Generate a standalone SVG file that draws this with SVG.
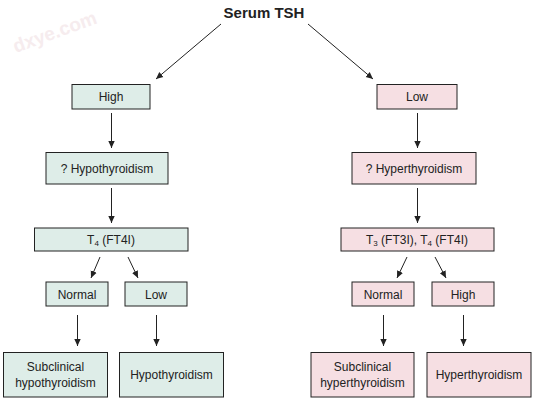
<svg xmlns="http://www.w3.org/2000/svg" width="534" height="403" viewBox="0 0 534 403">
<defs>
<marker id="ah" markerWidth="8" markerHeight="8" refX="7" refY="4" orient="auto" markerUnits="userSpaceOnUse">
<path d="M0,0.8 L7,4 L0,7.2 Z" fill="#222"/>
</marker>
<style>
.g{fill:#deede8;stroke:#222;stroke-width:1}
.p{fill:#f6dfe3;stroke:#222;stroke-width:1}
.t{font-family:"Liberation Sans",Arial,sans-serif;font-size:12px;fill:#222;text-anchor:middle}
.c line{stroke:#222;stroke-width:1;marker-end:url(#ah)}
</style>
</defs>
<rect width="534" height="403" fill="#fff"/>
<text x="57" y="38" transform="rotate(-20 57 38)" font-family="Liberation Sans,Arial,sans-serif" font-size="19" font-weight="bold" fill="#f6ecee" text-anchor="middle">dxye.com</text>
<g id="root"><text x="264" y="18" font-family="Liberation Sans,Arial,sans-serif" font-size="15" font-weight="bold" fill="#222" text-anchor="middle">Serum TSH</text></g>
<g id="high"><rect class="g" x="72" y="84.5" width="78" height="24.5"/><text class="t" x="111" y="101">High</text></g>
<g id="low"><rect class="p" x="377" y="84.5" width="80" height="24.5"/><text class="t" x="417" y="101">Low</text></g>
<g id="qhypo"><rect class="g" x="46" y="152.5" width="122" height="31.5"/><text class="t" x="107" y="172.5">? Hypothyroidism</text></g>
<g id="qhyper"><rect class="p" x="352" y="152.5" width="124" height="31.5"/><text class="t" x="414" y="172.5">? Hyperthyroidism</text></g>
<g id="t4"><rect class="g" x="34.5" y="228" width="153.5" height="23"/><text class="t" x="111" y="244">T<tspan font-size="8" dy="2">4</tspan><tspan dy="-2"> (FT4I)</tspan></text></g>
<g id="t3t4"><rect class="p" x="341" y="228" width="153" height="23"/><text class="t" x="417" y="244">T<tspan font-size="8" dy="2">3</tspan><tspan dy="-2"> (FT3I), T</tspan><tspan font-size="8" dy="2">4</tspan><tspan dy="-2"> (FT4I)</tspan></text></g>
<g id="normalL"><rect class="g" x="46" y="282" width="62" height="24"/><text class="t" x="77" y="298.5">Normal</text></g>
<g id="lowL"><rect class="g" x="125" y="282" width="62" height="24"/><text class="t" x="156" y="298.5">Low</text></g>
<g id="normalR"><rect class="p" x="352" y="282" width="62" height="24"/><text class="t" x="383" y="298.5">Normal</text></g>
<g id="highR"><rect class="p" x="432" y="282" width="62" height="24"/><text class="t" x="463" y="298.5">High</text></g>
<g id="subhypo"><rect class="g" x="3.5" y="352.5" width="104" height="44.5"/><text class="t" x="55.5" y="371">Subclinical</text><text class="t" x="55.5" y="387">hypothyroidism</text></g>
<g id="hypo"><rect class="g" x="119.5" y="352.5" width="104" height="44.5"/><text class="t" x="171.5" y="379">Hypothyroidism</text></g>
<g id="subhyper"><rect class="p" x="311" y="352.5" width="103" height="44.5"/><text class="t" x="362.5" y="371">Subclinical</text><text class="t" x="362.5" y="387">hyperthyroidism</text></g>
<g id="hyper"><rect class="p" x="427" y="352.5" width="104" height="44.5"/><text class="t" x="479" y="379">Hyperthyroidism</text></g>
<g id="connectors" class="c">
<line x1="221" y1="24" x2="156" y2="79"/>
<line x1="308" y1="24" x2="373" y2="79"/>
<line x1="111.5" y1="113" x2="111.5" y2="148"/>
<line x1="417.5" y1="113" x2="417.5" y2="148"/>
<line x1="111.5" y1="188" x2="111.5" y2="223"/>
<line x1="417.5" y1="188" x2="417.5" y2="223"/>
<line x1="100" y1="257" x2="91" y2="278"/>
<line x1="128" y1="257" x2="138" y2="278"/>
<line x1="407" y1="257" x2="397" y2="278"/>
<line x1="435" y1="257" x2="446" y2="278"/>
<line x1="77.5" y1="315" x2="77.5" y2="346"/>
<line x1="156.5" y1="315" x2="156.5" y2="346"/>
<line x1="383.5" y1="315" x2="383.5" y2="346"/>
<line x1="463.5" y1="315" x2="463.5" y2="346"/>
</g>
</svg>
